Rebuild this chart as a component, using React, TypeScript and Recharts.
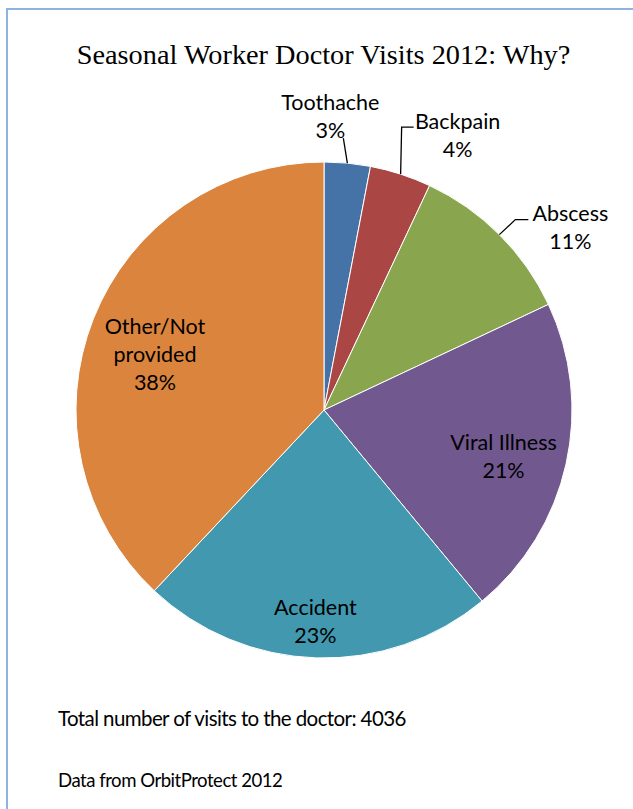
import React from 'react';
import { PieChart, Pie, Cell } from 'recharts';

// Slice data, clockwise from 12 o'clock
const reasons = ['Toothache', 'Backpain', 'Abscess', 'Viral Illness', 'Accident', 'Other/Not provided'];
const shares = [3, 4, 11, 21, 23, 38];
const sliceColors = ['#4572a7', '#aa4643', '#89a54e', '#71588f', '#4198af', '#db843d'];

const TITLE = 'Seasonal Worker Doctor Visits 2012: Why?';
const TOTAL_NOTE = 'Total number of visits to the doctor: 4036';
const SOURCE_NOTE = 'Data from OrbitProtect 2012';

const RADIAN = Math.PI / 180;
const LABEL_FONT = 'Lato, "Liberation Sans", sans-serif';
const LINE_H = 28;

// label placement (layout only)
const labelLayout: Record<string, any> = {
  Toothache: { outside: true, lines: ['Toothache', '3%'], leader: [[-4, -25]], text: [-17, -53] },
  Backpain: { outside: true, lines: ['Backpain', '4%'], leader: [[1, -47], [13, -47]], text: [57, -45] },
  Abscess: { outside: true, lines: ['Abscess', '11%'], leader: [[16, -15], [29, -15]], text: [71, -14] },
  'Viral Illness': { r: 0.75, lines: ['Viral Illness', '21%'], d: [-2, 6] },
  Accident: { r: 0.845, lines: ['Accident', '23%'], d: [-2, 3] },
  'Other/Not provided': { r: 0.72, lines: ['Other/Not', 'provided', '38%'], d: [-3, 11] },
};

const data = reasons.map((name, i) => ({ name, value: shares[i] }));

const renderLabel = (props: any) => {
  const { cx, cy, midAngle, outerRadius, name } = props;
  const cfg = labelLayout[name];
  if (!cfg) return null;
  const cos = Math.cos(-midAngle * RADIAN);
  const sin = Math.sin(-midAngle * RADIAN);

  if (cfg.outside) {
    const ex = cx + outerRadius * cos;
    const ey = cy + outerRadius * sin;
    const pts = [[ex, ey], ...cfg.leader.map((p: number[]) => [ex + p[0], ey + p[1]])];
    const d = pts.map((p: number[], i: number) => `${i === 0 ? 'M' : 'L'}${p[0]},${p[1]}`).join(' ');
    const tx = ex + cfg.text[0];
    const ty = ey + cfg.text[1];
    return (
      <g>
        <path d={d} stroke="#000" strokeWidth={1.3} fill="none" />
        <text x={tx} y={ty} textAnchor="middle" fill="#000" fontSize={21.5} fontFamily={LABEL_FONT}>
          {cfg.lines.map((l: string, i: number) => (
            <tspan key={i} x={tx} y={ty + i * LINE_H}>{l}</tspan>
          ))}
        </text>
      </g>
    );
  }

  const r = outerRadius * cfg.r;
  const mx = cx + r * cos + cfg.d[0];
  const my = cy + r * sin + cfg.d[1];
  const n = cfg.lines.length;
  // block vertically centred on (mx, my); baseline of first line
  const firstBase = my - ((n - 1) * LINE_H) / 2 + 7;
  return (
    <text x={mx} y={firstBase} textAnchor="middle" fill="#000" fontSize={21.5} fontFamily={LABEL_FONT}>
      {cfg.lines.map((l: string, i: number) => (
        <tspan key={i} x={mx} y={firstBase + i * LINE_H}>{l}</tspan>
      ))}
    </text>
  );
};

export default function App() {
  return (
    <div style={{ position: 'absolute', left: 0, top: 0, width: 633, height: 809, background: '#fff', overflow: 'hidden' }}>
      {/* frame: only the top and left edges are visible */}
      <div style={{ position: 'absolute', left: 6, top: 8, width: 800, height: 1000, borderLeft: '2px solid #8db3e2', borderTop: '2px solid #8db3e2' }} />
      <div style={{ position: 'absolute', left: 0, top: 0 }}>
        <PieChart width={633} height={809} margin={{ top: 0, right: 0, bottom: 0, left: 0 }}>
          <Pie
            data={data}
            dataKey="value"
            nameKey="name"
            cx={324}
            cy={410}
            outerRadius={248}
            startAngle={90}
            endAngle={-270}
            stroke="#fff"
            strokeWidth={1}
            label={renderLabel}
            labelLine={false}
            isAnimationActive={false}
          >
            {data.map((d, i) => (
              <Cell key={d.name} fill={sliceColors[i]} />
            ))}
          </Pie>
        </PieChart>
      </div>
      <div style={{ position: 'absolute', left: 0, width: 633, top: 39, textAlign: 'center', fontFamily: '"Liberation Serif", serif', fontSize: 28.3, lineHeight: '32px', color: '#000', paddingLeft: 14, boxSizing: 'border-box', whiteSpace: 'nowrap' }}>
        {TITLE}
      </div>
      <div style={{ position: 'absolute', left: 58, top: 706, fontFamily: LABEL_FONT, fontSize: 20.5, letterSpacing: -0.6, lineHeight: '24px', color: '#000', whiteSpace: 'nowrap' }}>
        {TOTAL_NOTE}
      </div>
      <div style={{ position: 'absolute', left: 58, top: 769, fontFamily: LABEL_FONT, fontSize: 18.6, letterSpacing: -0.5, lineHeight: '22px', color: '#000', whiteSpace: 'nowrap' }}>
        {SOURCE_NOTE}
      </div>
    </div>
  );
}
